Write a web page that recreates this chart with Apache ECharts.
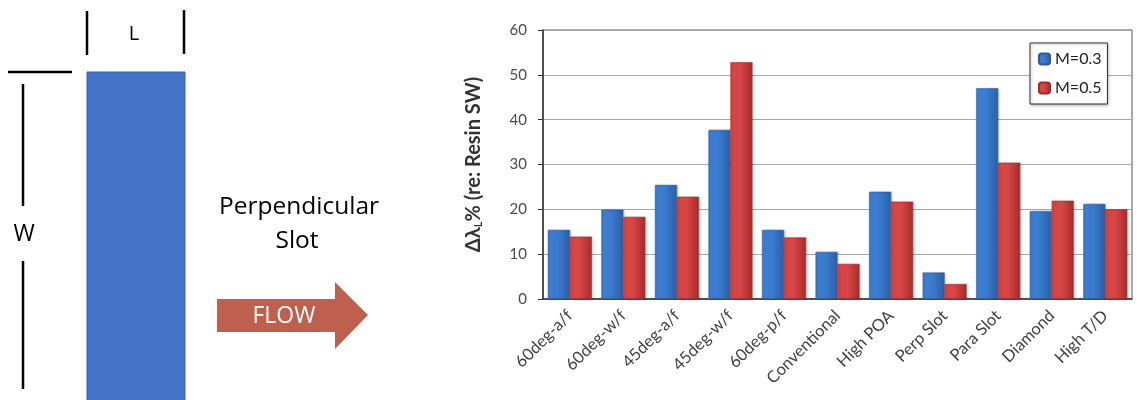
<!DOCTYPE html>
<html><head><meta charset="utf-8">
<script src="https://cdn.jsdelivr.net/npm/echarts@6/dist/echarts.min.js"></script>
<style>html,body{margin:0;padding:0;background:#fff}#c{width:1137px;height:400px}</style>
</head><body><div id="c"></div>
<script>
const categories = ['60deg-a/f','60deg-w/f','45deg-a/f','45deg-w/f','60deg-p/f','Conventional','High POA','Perp Slot','Para Slot','Diamond','High T/D'];
const seriesNames = ['M=0.3','M=0.5'];
const valuesM03 = [15.4, 19.9, 25.4, 37.7, 15.4, 10.5, 23.9, 5.9, 47.0, 19.6, 21.2];
const valuesM05 = [13.9, 18.3, 22.8, 52.8, 13.7, 7.8, 21.7, 3.3, 30.4, 21.9, 20.0];
const yTicks = [0, 10, 20, 30, 40, 50, 60];

const FONT = 'Lato, "Open Sans", sans-serif';
const SFONT = '"Open Sans", sans-serif';
function grad(c1, c2, c3) {
  return new echarts.graphic.LinearGradient(0, 0, 1, 0, [
    {offset: 0, color: c1}, {offset: 0.45, color: c2}, {offset: 1, color: c3}
  ]);
}
const blueFill = grad('#3f7fd0', '#3a7bd0', '#2c5fa8');
const redFill = grad('#d84444', '#d84646', '#a92a2a');

const chart = echarts.init(document.getElementById('c'));
chart.setOption({
  animation: false,
  grid: {left: 543, right: 5, top: 30, bottom: 101, show: true, borderColor: '#555', borderWidth: 1},
  legend: {
    data: seriesNames, orient: 'vertical', left: 1030, top: 43,
    padding: [8, 6, 8, 8], itemGap: 13, itemWidth: 11, itemHeight: 11,
    borderColor: '#333', borderWidth: 1, backgroundColor: '#fff',
    shadowColor: 'rgba(0,0,0,0.3)', shadowBlur: 3, shadowOffsetX: 1, shadowOffsetY: 1,
    textStyle: {fontFamily: FONT, fontSize: 16, color: '#222'}
  },
  xAxis: {
    type: 'category', data: categories,
    axisLine: {lineStyle: {color: '#333', width: 1.5}},
    axisTick: {show: false},
    axisLabel: {rotate: 45, interval: 0, fontFamily: FONT, fontSize: 16.5, color: '#404040', margin: 14}
  },
  yAxis: {
    type: 'value', min: yTicks[0], max: yTicks[yTicks.length - 1], interval: 10,
    name: 'Δλ{sub|L}% (re: Resin SW)', nameLocation: 'middle', nameGap: 59,
    nameTextStyle: {fontFamily: FONT, fontSize: 20, fontWeight: 'bold', color: '#333',
      rich: {sub: {fontFamily: FONT, fontSize: 11, fontWeight: 'bold', color: '#333', verticalAlign: 'bottom', padding: [10, 0, 0, 0]}}},
    axisLine: {show: true, lineStyle: {color: '#333', width: 1.5}},
    axisTick: {show: true, length: 5, lineStyle: {color: '#333'}},
    axisLabel: {fontFamily: FONT, fontSize: 15, color: '#4a4a4a', margin: 16},
    splitLine: {lineStyle: {color: '#a8a8a8', width: 1.2}}
  },
  series: [
    {name: seriesNames[0], type: 'bar', data: valuesM03, barGap: '0%', barCategoryGap: '18%',
     itemStyle: {color: blueFill, borderColor: '#2a5a9e', borderWidth: 0.5, shadowColor: 'rgba(0,0,0,0.25)', shadowBlur: 2, shadowOffsetX: 1}},
    {name: seriesNames[1], type: 'bar', data: valuesM05,
     itemStyle: {color: redFill, borderColor: '#9e2a2a', borderWidth: 0.5, shadowColor: 'rgba(0,0,0,0.25)', shadowBlur: 2, shadowOffsetX: 1}}
  ],
  graphic: [
    {type: 'line', shape: {x1: 87, y1: 11, x2: 87, y2: 55}, style: {stroke: '#000', lineWidth: 2.5}},
    {type: 'line', shape: {x1: 184, y1: 10, x2: 184, y2: 54}, style: {stroke: '#000', lineWidth: 2.5}},
    {type: 'text', style: {x: 134, y: 34, textAlign: 'center', textVerticalAlign: 'middle', text: 'L', font: '20px ' + SFONT, fill: '#000'}},
    {type: 'line', shape: {x1: 8, y1: 72, x2: 72, y2: 72}, style: {stroke: '#000', lineWidth: 2.5}},
    {type: 'rect', shape: {x: 87, y: 72, width: 98, height: 340}, style: {fill: '#4472c4', stroke: '#3560ad', lineWidth: 1}},
    {type: 'line', shape: {x1: 23, y1: 84, x2: 23, y2: 206}, style: {stroke: '#000', lineWidth: 2.5}},
    {type: 'line', shape: {x1: 23, y1: 261, x2: 23, y2: 389}, style: {stroke: '#000', lineWidth: 2.5}},
    {type: 'text', style: {x: 24, y: 234, textAlign: 'center', textVerticalAlign: 'middle', text: 'W', font: '23px ' + SFONT, fill: '#000'}},
    {type: 'text', style: {x: 299, y: 207, textAlign: 'center', textVerticalAlign: 'middle', text: 'Perpendicular', font: '24.5px ' + SFONT, fill: '#000'}},
    {type: 'text', style: {x: 297, y: 241, textAlign: 'center', textVerticalAlign: 'middle', text: 'Slot', font: '24.5px ' + SFONT, fill: '#000'}},
    {type: 'polygon', shape: {points: [[217, 299], [335, 299], [335, 282], [368, 315], [335, 349], [335, 332], [217, 332]]},
     style: {fill: '#bd604d'}},
    {type: 'text', style: {x: 284, y: 316, textAlign: 'center', textVerticalAlign: 'middle', text: 'FLOW', font: '23px ' + SFONT, fill: '#fff'}}
  ]
});
</script></body></html>
